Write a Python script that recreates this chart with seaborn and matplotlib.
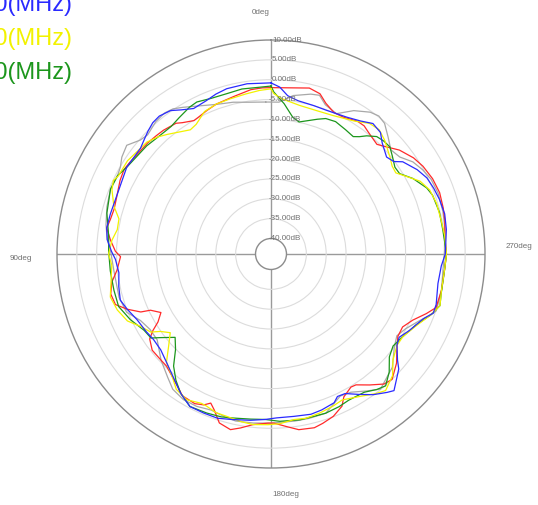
import matplotlib
matplotlib.use("Agg")
import matplotlib.pyplot as plt
import numpy as np
import pandas as pd
import seaborn as sns

blue_deg = [0, 8, 15, 19, 23, 28, 32, 35, 39, 42, 45, 48, 51, 59, 67, 76, 81, 85, 89,
            92, 97, 102, 107, 111, 116, 122, 126, 131, 136, 141, 147, 152, 157, 162, 167, 173, 178,
            182, 188, 194, 198, 203, 205, 208, 212, 216, 220, 222, 228, 230, 234, 237, 241, 247, 250, 253, 260, 266,
            270, 278, 283, 288, 292, 296, 300, 305, 307, 310, 315, 318, 322, 326, 331, 339, 344, 350, 354, 357]
blue_db = [-0.8, -0.6, -0.8, -1.3, -2.0, -2.4, -1.1, 0.2, 0.8, 0.6, -0.1, -0.9, -1.6, -1.5, -2.3, -2.2, -2.0, -2.5, -3.7,
           -4.7, -5.3, -4.7, -4.2, -5.1, -6.3, -6.9, -7.3, -7.1, -6.0, -4.5, -2.1, -0.4, -0.4, -0.4, -1.1, -1.7, -2.2,
           -2.6, -2.6, -2.3, -2.6, -3.2, -4.3, -4.1, -2.2, -0.1, 1.6, 2.4, -0.6, -2.3, -4.7, -5.4, -4.1, -2.2, -0.4, -0.4, -1.2, -0.9,
           0.0, 0.7, 1.0, 0.7, 0.3, -0.2, -1.4, -3.4, -5.2, -5.9, -4.3, -2.7, -2.2, -3.5, -4.5, -5.1, -5.0, -4.7, -3.8, -1.8]

green_deg = [0, 4, 10, 15, 21, 26, 29, 34, 38, 43, 49, 59, 63, 68, 76, 84, 89,
             96, 103, 109, 115, 121, 125, 127, 131, 135, 139, 143, 147, 152, 158, 163, 167, 173, 178,
             183, 190, 195, 199, 204, 208, 214, 218, 221, 225, 229, 233, 238, 244, 249, 253, 257, 265,
             270, 278, 284, 290, 293, 298, 302, 305, 309, 312, 315, 318, 321, 323, 325, 329, 334, 338, 341, 348, 351, 355, 359]
green_db = [-1.6, -1.8, -1.7, -2.0, -1.9, -1.3, -1.6, -2.5, -3.1, -3.0, -2.4, -1.5, -0.5, -0.3, -1.3, -2.8, -3.0,
            -3.2, -3.3, -3.3, -4.8, -6.6, -7.0, -8.9, -11.9, -9.9, -6.5, -4.1, -2.1, -0.4, -0.7, -1.0, -1.5, -2.0, -2.2,
            -1.7, -1.5, -1.6, -1.5, -1.8, -2.2, -1.9, -0.6, 0.1, -1.8, -4.4, -5.4, -4.7, -3.2, -0.9, 0.6, 0.1, 0.0,
            0.3, -0.2, -0.2, -0.6, -1.3, -3.4, -5.7, -5.8, -4.6, -3.6, -3.7, -4.1, -5.6, -6.9, -7.8, -7.4, -6.8, -7.1, -8.0, -9.9, -9.0, -5.9, -3.1]

yellow_deg = [0, 4, 9, 15, 20, 25, 30, 33, 38, 41, 44, 48, 51, 57, 63, 65, 68, 73, 77, 81, 85, 90,
              94, 105, 110, 115, 119, 123, 125, 128, 132, 136, 141, 145, 150, 155, 157, 161, 165, 170, 174, 179,
              183, 188, 192, 197, 202, 206, 212, 217, 220, 225, 229, 234, 238, 244, 249, 253, 258, 265,
              270, 276, 281, 287, 292, 296, 300, 303, 306, 309, 315, 319, 323, 328, 336, 342, 349, 356, 359]
yellow_db = [-2.3, -2.6, -3.1, -3.5, -3.7, -4.3, -6.2, -6.6, -5.1, -4.0, -2.9, -1.8, -1.6, -0.8, -0.7, -0.1, -0.7, -2.5, -4.6, -4.7, -3.7, -3.0,
             -3.7, -2.0, -2.7, -4.0, -6.3, -7.8, -9.9, -11.7, -9.2, -6.0, -4.3, -2.3, -1.5, -2.4, -2.3, -1.6, -1.5, -1.0, -0.7, -0.9,
             -1.1, -1.8, -1.6, -2.0, -2.5, -3.0, -1.6, 0.1, 1.0, -0.6, -3.2, -4.7, -4.7, -3.0, -0.9, 0.6, 0.0, 0.0,
             0.3, 0.1, -0.2, -0.3, -0.8, -2.1, -4.7, -6.4, -6.2, -5.3, -3.4, -2.4, -2.7, -4.4, -5.7, -6.0, -5.8, -4.7, -3.5]

red_deg = [0, 3, 7, 13, 20, 24, 28, 30, 34, 36, 41, 44, 48, 57, 60, 64, 70, 74, 78, 81, 85, 89,
           91, 96, 100, 104, 108, 111, 114, 115, 118, 121, 123, 125, 129, 134, 137, 141, 145, 148, 153, 156, 158, 160, 163, 167, 170, 174, 179,
           181, 185, 189, 194, 197, 201, 205, 207, 211, 213, 217, 221, 224, 229, 233, 237, 241, 245, 249, 252, 258, 265,
           270, 275, 281, 285, 290, 295, 300, 304, 309, 313, 316, 321, 324, 327, 332, 336, 340, 343, 347, 359]
red_db = [-2.0, -2.0, -2.2, -3.1, -3.7, -4.3, -4.9, -5.1, -4.0, -3.2, -2.6, -2.4, -2.1, -1.5, -1.2, -1.6, -2.5, -2.8, -2.5, -2.0, -3.3, -4.7,
          -6.0, -4.9, -3.2, -2.3, -2.7, -5.1, -8.0, -10.4, -12.5, -10.7, -8.4, -6.6, -5.4, -5.4, -5.3, -4.3, -3.0, -1.8, -1.6, -2.3, -3.4, -2.1, 0.6, 1.5, 0.6, -0.7, -1.3,
          -1.3, -0.3, 0.9, 1.2, 0.7, -0.1, -1.6, -3.5, -4.8, -4.6, -2.6, -0.5, 0.0, -2.0, -4.2, -5.8, -6.0, -4.5, -2.0, -0.2, 0.0, 0.0,
          0.3, 0.1, 0.7, 1.0, 1.3, 1.0, 0.3, -0.6, -2.3, -4.3, -5.5, -4.7, -4.0, -4.0, -4.9, -4.9, -3.5, -1.7, -1.0, -2.0]

gray_deg = [2, 9, 14, 20, 26, 31, 34, 37, 41, 46, 49, 53, 57, 60, 63, 68, 74, 80, 85, 89,
            96, 106, 112, 117, 122, 127, 134, 140, 144, 149, 154, 159, 164, 168, 174, 180,
            188, 193, 199, 206, 210, 215, 219, 227, 233, 237, 241, 246, 249, 251, 258, 265,
            271, 279, 284, 290, 295, 299, 303, 307, 311, 315, 319, 322, 325, 330, 335, 340, 343, 346, 352, 357]
gray_db = [-5.6, -5.2, -4.5, -3.8, -2.4, -0.8, 0.2, 0.6, 0.3, -0.7, -0.2, 1.6, 0.9, -0.1, -0.5, -0.3, -0.9, -1.7, -2.5, -3.5,
           -4.1, -4.1, -4.7, -7.0, -8.0, -8.0, -5.4, -3.4, -1.8, -1.1, -1.2, -1.8, -1.3, -0.9, -1.1, -1.3,
           -1.4, -1.4, -1.5, -4.1, -3.7, -1.8, -0.1, -2.1, -5.0, -6.1, -5.1, -2.8, -0.9, 0.1, 0.0, -0.4,
           -0.2, 0.4, 0.7, 0.9, 0.6, -0.2, -1.3, -3.3, -3.9, -2.2, -0.3, 0.2, -0.3, -2.2, -4.9, -3.9, -2.1, -2.4, -3.6, -5.6]

series_names = ["gray", "red", "green", "yellow", "blue"]
series_colors = {"gray": "#a8a8a8", "red": "#ff2a2a", "green": "#1c961c",
                 "yellow": "#f2f200", "blue": "#2a2aff"}
legend_labels = ["2400(MHz)", "2450(MHz)", "2500(MHz)"]
legend_colors = ["#2a2aff", "#f2f200", "#1c961c"]

r_ticks = [10, 5, 0, -5, -10, -15, -20, -25, -30, -35, -40]

# long table, each trace closed back on its first point
traces = {"gray": (gray_deg, gray_db), "red": (red_deg, red_db), "green": (green_deg, green_db),
          "yellow": (yellow_deg, yellow_db), "blue": (blue_deg, blue_db)}
rows = []
for name in series_names:
    d, v = traces[name]
    d = list(d) + [d[0] + 360]
    v = list(v) + [v[0]]
    for a, b in zip(d, v):
        rows.append({"theta": np.deg2rad(a), "dB": b, "series": name})
df = pd.DataFrame(rows)

# --- figure ---
W, H = 538, 505
fig = plt.figure(figsize=(W / 100, H / 100), dpi=100)
cx, cy, R = 271, 254, 214
ax = fig.add_axes([(cx - R) / W, (H - cy - R) / H, 2 * R / W, 2 * R / H], projection="polar")

sns.lineplot(data=df, x="theta", y="dB", hue="series", hue_order=series_names,
             palette=series_colors, sort=False, estimator=None, legend=False,
             linewidth=0.9, ax=ax)

ax.set_theta_zero_location("N")
ax.set_theta_direction(1)
ax.set_rlim(-40, 10)
ax.set_rorigin(-43.9)
ax.set_xlabel("")
ax.set_ylabel("")

ax.set_thetagrids([0, 90, 180, 270], labels=[])
ax.set_rgrids([-35, -30, -25, -20, -15, -10, -5, 0, 5], labels=[])
ax.yaxis.grid(True, color="#dcdcdc", linewidth=0.8)
ax.xaxis.grid(True, color="#9a9a9a", linewidth=1.0)
ax.tick_params(length=0)
for s in ax.spines.values():
    s.set_color("#8c8c8c")
    s.set_linewidth(1.0)

lab_font = dict(family=["Liberation Sans", "DejaVu Sans"], fontsize=5.8, color="#707070")
for v in r_ticks:
    off = 0.8 if v >= 0 else -1.5
    ax.annotate(f"{v:.2f}dB", xy=(0, v), xytext=(off, 0), textcoords="offset points",
                ha="left", va="center", **lab_font)

fig.text(252 / W, 1 - 13 / H, "0deg", ha="left", va="center", **lab_font)
fig.text(10 / W, 1 - 259 / H, "90deg", ha="left", va="center", **lab_font)
fig.text(506 / W, 1 - 247 / H, "270deg", ha="left", va="center", **lab_font)
fig.text(272 / W, 1 - 494 / H, "180deg", ha="left", va="center", **lab_font)

# legend entries, partly cut off at the left edge as in the original capture
for i, (lab, col) in enumerate(zip(legend_labels, legend_colors)):
    fig.text(73 / W, 1 - (5 + 34 * i) / H, lab, ha="right", va="center", color=col,
             fontsize=17, family=["Liberation Sans", "DejaVu Sans"])

fig.savefig("out.png", dpi=100)
